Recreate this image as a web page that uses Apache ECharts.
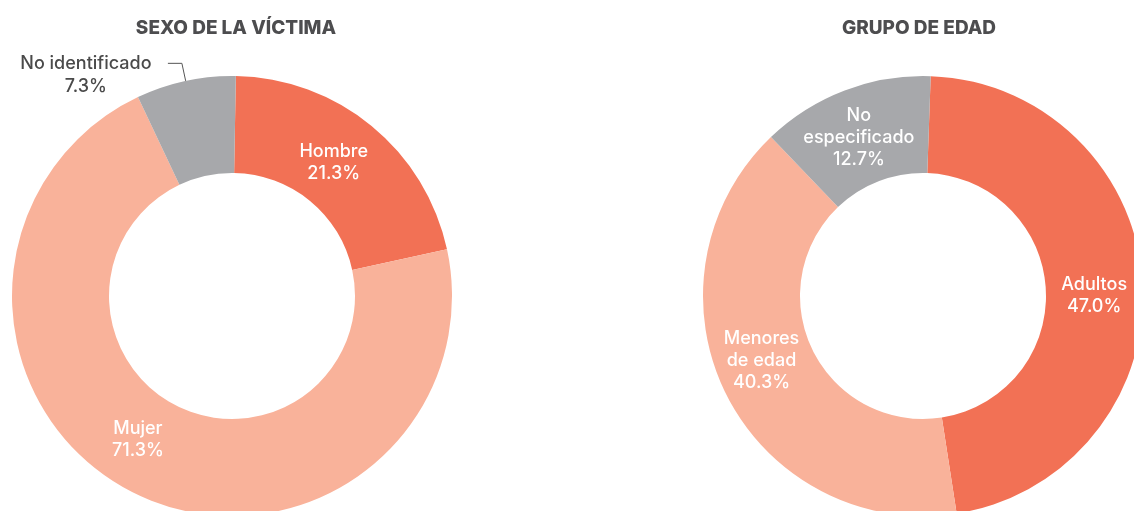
<!DOCTYPE html>
<html>
<head>
<meta charset="utf-8">
<script src="https://cdn.jsdelivr.net/npm/echarts@6/dist/echarts.min.js"></script>
<style>
  html, body { margin: 0; padding: 0; background: #fff; }
  #main { width: 1134px; height: 511px; }
</style>
</head>
<body>
<div id="main"></div>
<script>
// datos
var sexoCategorias = ['Hombre', 'Mujer', 'No identificado'];
var sexoValores = [21.3, 71.3, 7.3];
var edadCategorias = ['Adultos', 'Menores de edad', 'No especificado'];
var edadValores = [47.0, 40.3, 12.7];

var colores = ['#f27155', '#f9b29a', '#a7a8ab'];
var fuente = 'Inter, Roboto, sans-serif';

// pequeños ajustes de posición de las etiquetas internas
var ajusteSexo = [[-9, 1], [-17, -13], [0, 0]];
var ajusteEdad = [[-3, 10], [-5, -13], [-2, 5]];

function pct(v) { return v.toFixed(1) + '%'; }

var sexoData = sexoCategorias.map(function (c, i) {
  var d = { name: c, value: sexoValores[i], itemStyle: { color: colores[i] } };
  if (i === 2) {
    d.label = {
      position: 'outside',
      formatter: function (p) { return '{a|' + p.name + '}\n{a|' + pct(p.value) + '}'; },
      padding: [0, 0, -23, 0],
      distanceToLabelLine: 12,
      rich: { a: { width: 140, align: 'center', fontSize: 18, fontWeight: 500, lineHeight: 23, color: '#4a4a4a', fontFamily: fuente } }
    };
    d.labelLine = { show: true, length: 18, length2: 14, lineStyle: { color: '#555', width: 1 } };
  }
  return d;
});

var edadData = edadCategorias.map(function (c, i) {
  return { name: c, value: edadValores[i], itemStyle: { color: colores[i] } };
});

var chart = echarts.init(document.getElementById('main'));
chart.setOption({
  animation: false,
  title: [
    { text: 'SEXO DE LA VÍCTIMA', left: 231, top: 14, textAlign: 'center',
      textStyle: { fontFamily: fuente, fontSize: 19, fontWeight: 800, color: '#4d4d4f' } },
    { text: 'GRUPO DE EDAD', left: 914, top: 14, textAlign: 'center',
      textStyle: { fontFamily: fuente, fontSize: 19, fontWeight: 800, color: '#4d4d4f' } }
  ],
  series: [
    {
      type: 'pie',
      center: [232, 296],
      radius: [123, 220],
      startAngle: 89,
      avoidLabelOverlap: false,
      label: {
        show: true,
        position: 'inside',
        color: '#fff',
        fontFamily: fuente,
        fontSize: 18,
        fontWeight: 500,
        lineHeight: 22,
        formatter: function (p) { return p.name + '\n' + pct(p.value); }
      },
      labelLine: { show: false },
      labelLayout: function (p) {
        var a = ajusteSexo[p.dataIndex];
        return { dx: a[0], dy: a[1] };
      },
      data: sexoData
    },
    {
      type: 'pie',
      center: [923, 296],
      radius: [123, 220],
      startAngle: 88,
      avoidLabelOverlap: false,
      label: {
        show: true,
        position: 'inside',
        color: '#fff',
        fontFamily: fuente,
        fontSize: 18,
        fontWeight: 500,
        lineHeight: 22,
        formatter: function (p) { return p.name.replace(' ', '\n') + '\n' + pct(p.value); }
      },
      labelLine: { show: false },
      labelLayout: function (p) {
        var a = ajusteEdad[p.dataIndex];
        return { dx: a[0], dy: a[1] };
      },
      data: edadData
    }
  ]
});
</script>
</body>
</html>
